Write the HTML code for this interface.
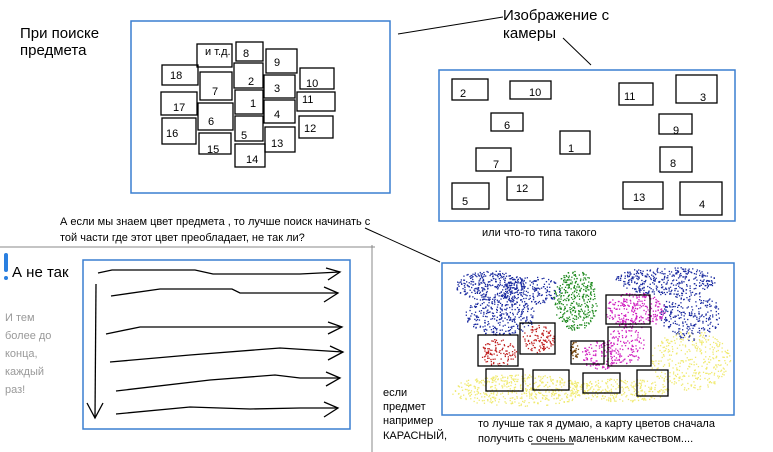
<!DOCTYPE html>
<html><head><meta charset="utf-8"><style>
html,body{margin:0;padding:0;background:#fff;width:773px;height:452px;overflow:hidden}
svg{display:block}
text{font-family:"Liberation Sans","DejaVu Sans",sans-serif}
</style></head><body>
<svg id="s" width="773" height="452" viewBox="0 0 773 452" xmlns="http://www.w3.org/2000/svg">
<g font-size="15" fill="#000">
<text x="20" y="38">При поиске</text>
<text x="20" y="55">предмета</text>
<text x="503" y="20">Изображение с</text>
<text x="503" y="38">камеры</text>
<text x="12" y="277">А не так</text>
</g>
<line x1="398" y1="34" x2="503" y2="17" stroke="#000" stroke-width="1"/>
<line x1="563" y1="38" x2="591" y2="65" stroke="#000" stroke-width="1"/>
<line x1="365" y1="228" x2="440" y2="262" stroke="#000" stroke-width="1"/>
<rect x="131" y="21" width="259" height="172" fill="none" stroke="#3a7fd0" stroke-width="1.5"/>
<g fill="none" stroke="#000" stroke-width="1.3">
<rect x="197" y="44" width="35" height="23"/><rect x="236" y="42" width="27" height="19"/>
<rect x="266" y="49" width="31" height="24"/><rect x="162" y="65" width="36" height="20"/>
<rect x="234" y="63" width="29" height="25"/><rect x="300" y="68" width="34" height="21"/>
<rect x="200" y="72" width="32" height="28"/><rect x="264" y="75" width="31" height="23"/>
<rect x="161" y="92" width="36" height="23"/><rect x="235" y="90" width="28" height="24"/>
<rect x="297" y="92" width="38" height="19"/><rect x="198" y="103" width="35" height="27"/>
<rect x="264" y="100" width="31" height="23"/><rect x="162" y="118" width="34" height="26"/>
<rect x="235" y="116" width="28" height="25"/><rect x="299" y="116" width="34" height="22"/>
<rect x="265" y="127" width="30" height="25"/><rect x="199" y="133" width="32" height="21"/>
<rect x="235" y="144" width="30" height="23"/>
</g>
<g font-size="11" fill="#000">
<text x="205" y="55">и т.д.</text><text x="243" y="57">8</text><text x="274" y="66">9</text>
<text x="170" y="79">18</text><text x="248" y="85">2</text><text x="306" y="87">10</text>
<text x="212" y="95">7</text><text x="274" y="92">3</text><text x="173" y="111">17</text>
<text x="250" y="107">1</text><text x="302" y="103">11</text><text x="208" y="125">6</text>
<text x="274" y="118">4</text><text x="166" y="137">16</text><text x="241" y="139">5</text>
<text x="304" y="132">12</text><text x="271" y="147">13</text><text x="207" y="153">15</text>
<text x="246" y="163">14</text>
</g>
<rect x="439" y="70" width="296" height="151" fill="none" stroke="#3a7fd0" stroke-width="1.5"/>
<g fill="none" stroke="#000" stroke-width="1.3">
<rect x="452" y="79" width="36" height="21"/><rect x="510" y="81" width="41" height="18"/>
<rect x="619" y="83" width="34" height="22"/><rect x="676" y="75" width="41" height="28"/>
<rect x="491" y="113" width="32" height="18"/><rect x="659" y="114" width="33" height="20"/>
<rect x="560" y="131" width="30" height="23"/><rect x="476" y="148" width="35" height="23"/>
<rect x="660" y="147" width="32" height="25"/><rect x="452" y="183" width="37" height="26"/>
<rect x="507" y="177" width="36" height="23"/><rect x="623" y="182" width="40" height="27"/>
<rect x="680" y="182" width="42" height="33"/>
</g>
<g font-size="11" fill="#000">
<text x="460" y="97">2</text><text x="529" y="96">10</text><text x="624" y="100">11</text>
<text x="700" y="101">3</text><text x="504" y="129">6</text><text x="673" y="134">9</text>
<text x="568" y="152">1</text><text x="493" y="168">7</text><text x="670" y="167">8</text>
<text x="462" y="205">5</text><text x="516" y="192">12</text><text x="633" y="201">13</text>
<text x="699" y="208">4</text>
<text x="482" y="236">или что-то типа такого</text>
<text x="60" y="225">А если мы знаем цвет предмета , то лучше поиск начинать с</text>
<text x="60" y="241">той части где этот цвет преобладает, не так ли?</text>
<text x="383" y="396">если</text><text x="383" y="410">предмет</text>
<text x="383" y="424">например</text><text x="383" y="439">КАРАСНЫЙ,</text>
<text x="478" y="427">то лучше так я думаю, а карту цветов сначала</text>
<text x="478" y="442">получить с очень маленьким качеством....</text>
</g>
<line x1="531" y1="444" x2="574" y2="444" stroke="#000"/>
<g font-size="11" fill="#999">
<text x="5" y="321">И тем</text><text x="5" y="339">более до</text><text x="5" y="357">конца,</text>
<text x="5" y="375">каждый</text><text x="5" y="393">раз!</text>
</g>
<line x1="0" y1="247" x2="375" y2="247" stroke="#888"/>
<line x1="372" y1="245" x2="372" y2="452" stroke="#888"/>
<rect x="4" y="253" width="4" height="19" rx="2" fill="#2a7fe0"/>
<rect x="4" y="276" width="4" height="4" rx="2" fill="#2a7fe0"/>
<rect x="83" y="260" width="267" height="169" fill="none" stroke="#3a7fd0" stroke-width="1.5"/>
<g fill="none" stroke="#000" stroke-width="1.3">
<polyline points="98,273 112,270 195,270 213,274 300,274 340,272"/><polyline points="326,268 340,272 328,280"/>
<polyline points="111,296 160,289 232,289 240,293 338,293"/><polyline points="324,287 338,293 324,302"/>
<polyline points="106,334 140,327 342,327"/><polyline points="328,322 342,327 328,334"/>
<polyline points="110,362 190,355 280,348 343,352"/><polyline points="330,346 343,352 328,360"/>
<polyline points="116,391 210,380 275,375 300,378 340,378"/><polyline points="326,372 340,378 326,386"/>
<polyline points="116,414 190,407 250,409 300,408 338,408"/><polyline points="324,402 338,408 324,417"/>
<polyline points="96,284 95,418"/><polyline points="87,403 95,418 103,403"/>
</g>
<rect x="442" y="263" width="292" height="152" fill="none" stroke="#3a7fd0" stroke-width="1.5"/>
<g id="dots"></g>
<g fill="none" stroke="#000" stroke-width="1.3">
<rect x="606" y="295" width="44" height="29"/><rect x="520" y="323" width="35" height="31"/>
<rect x="478" y="335" width="40" height="31"/><rect x="571" y="341" width="33" height="23"/>
<rect x="608" y="327" width="43" height="39"/><rect x="486" y="369" width="37" height="22"/>
<rect x="533" y="370" width="36" height="20"/><rect x="583" y="373" width="37" height="20"/>
<rect x="637" y="370" width="31" height="26"/>
</g>
</svg>
<script>
(function(){
var g=document.getElementById('dots'),ns='http://www.w3.org/2000/svg',seed=7;
function r(){seed=(seed*16807)%2147483647;return seed/2147483647;}
function blob(cx,cy,rx,ry,n,c){for(var i=0;i<n;i++){var a=r()*6.283,d=Math.sqrt(r());var e=document.createElementNS(ns,'rect');e.setAttribute('x',(cx+Math.cos(a)*d*rx).toFixed(1));e.setAttribute('y',(cy+Math.sin(a)*d*ry).toFixed(1));e.setAttribute('width',1.3);e.setAttribute('height',1.3);e.setAttribute('fill',c);g.appendChild(e);}}
var Y='#f0ea70',B='#1a2aa0';
blob(520,390,70,16,500,Y);blob(690,360,40,30,350,Y);blob(620,390,50,12,250,Y);
blob(490,285,35,15,300,B);blob(500,315,35,20,300,B);blob(530,290,30,14,200,B);
blob(665,280,50,14,350,B);blob(690,315,30,25,250,B);
blob(575,300,22,30,350,'#1e8a1e');
blob(635,310,30,18,280,'#d020c0');blob(600,355,20,14,120,'#d020c0');blob(625,345,20,18,120,'#d020c0');
blob(538,338,16,14,110,'#c02020');blob(498,352,18,14,110,'#c02020');
blob(574,350,4,9,40,'#7a4a10');
})();
</script>
</body></html>
